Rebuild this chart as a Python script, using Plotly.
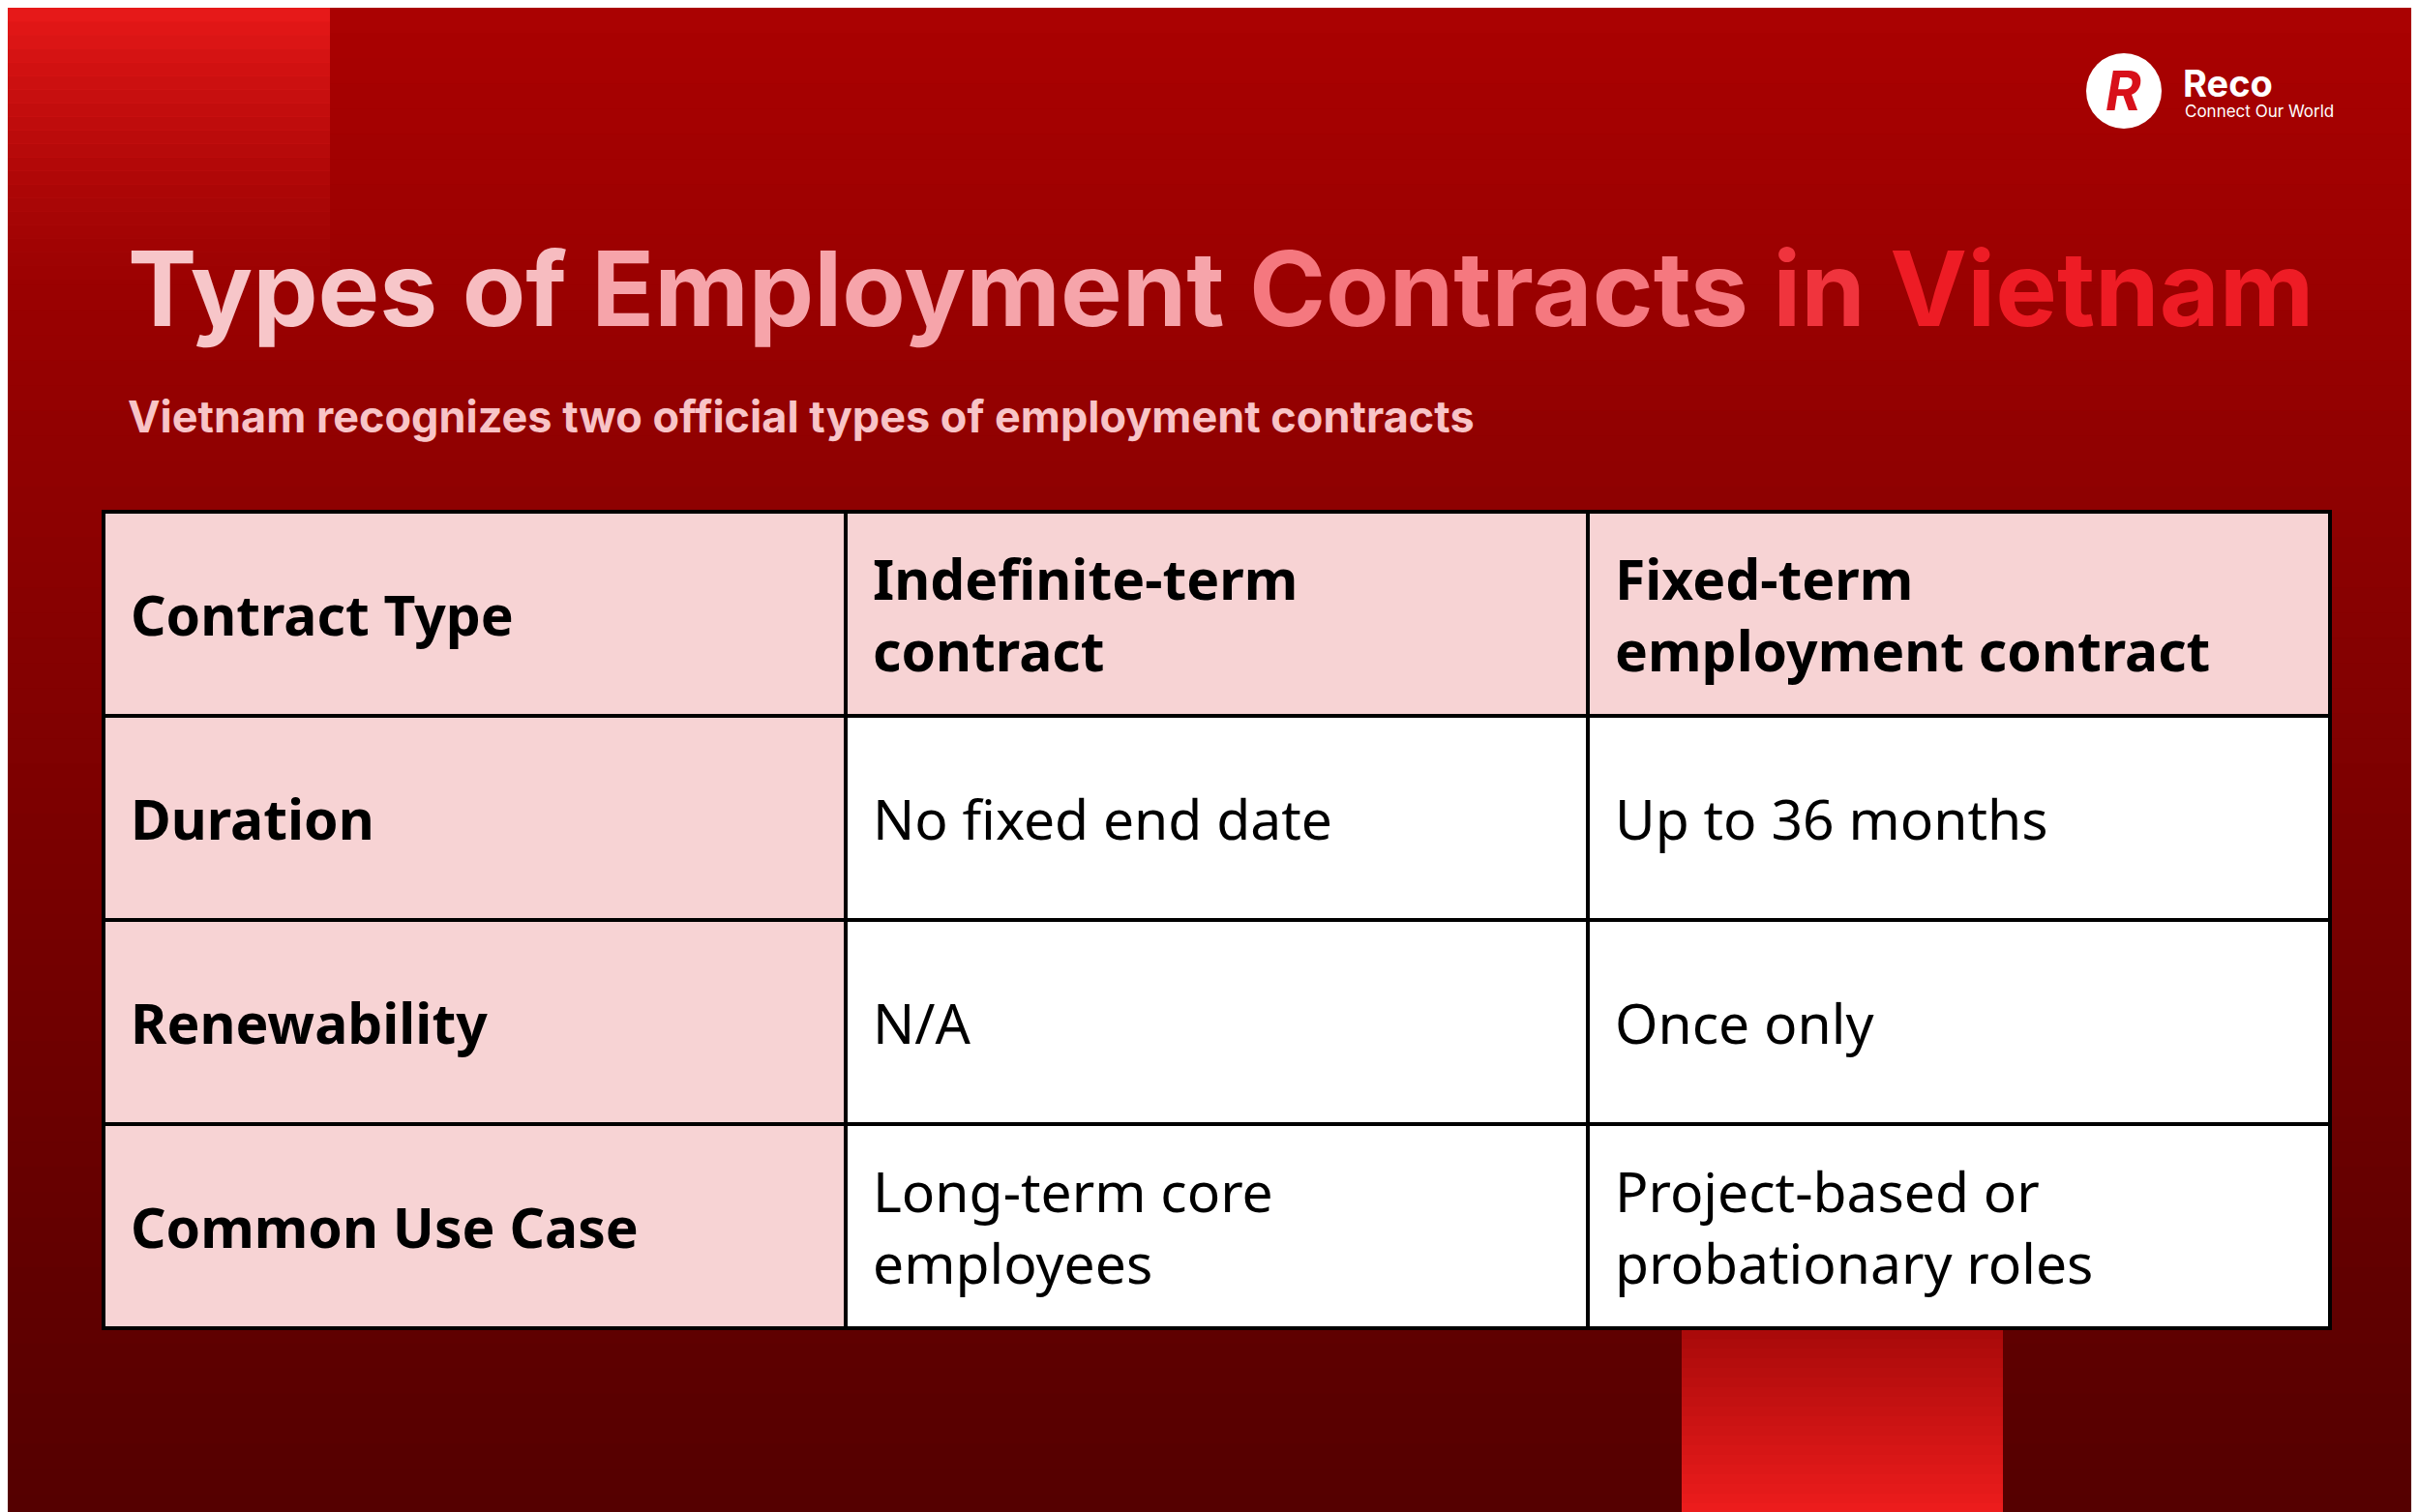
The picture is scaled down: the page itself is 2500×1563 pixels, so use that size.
import plotly.graph_objects as go

# table content
header = ["Contract Type", "Indefinite-term<br>contract", "Fixed-term<br>employment contract"]
row_labels = ["Duration", "Renewability", "Common Use Case"]
indefinite = ["No fixed end date", "N/A", "Long-term core<br>employees"]
fixed = ["Up to 36 months", "Once only", "Project-based or<br>probationary roles"]

title_words = ["Types", "of", "Employment", "Contracts", "in", "Vietnam"]
title_colors = ["#f7c6c9", "#f7bcc0", "#f6a4aa", "#f5787f", "#f0343d", "#ee1c25"]
subtitle = "Vietnam recognizes two official types of employment contracts"

W, H = 2500, 1563
col_edges = [99, 866, 1633, 2400]
row_edges = [521, 732, 943, 1154, 1365]

fig = go.Figure()
shapes = []

# background gradient
n = 60
top, bot = (170, 2, 2), (85, 0, 0)
for i in range(n):
    t = i / (n - 1)
    c = tuple(int(top[k] + (bot[k] - top[k]) * t) for k in range(3))
    shapes.append(dict(type="rect", xref="x", yref="y", x0=0, x1=W,
                       y0=H * i / n, y1=H * (i + 1) / n + 1,
                       fillcolor="rgb(%d,%d,%d)" % c, line_width=0, layer="below"))
# accent blocks
for i in range(20):
    t = i / 19
    c = (int(230 - 70 * t), int(25 - 20 * t), int(25 - 20 * t))
    shapes.append(dict(type="rect", xref="x", yref="y", x0=0, x1=333,
                       y0=i * 14, y1=i * 14 + 15, fillcolor="rgb(%d,%d,%d)" % c,
                       line_width=0, layer="below", opacity=1 - 0.6 * t))
    c2 = (int(170 + 70 * t), int(10 + 20 * t), int(10 + 20 * t))
    shapes.append(dict(type="rect", xref="x", yref="y", x0=1730, x1=2062,
                       y0=1366 + i * 10, y1=1366 + i * 10 + 11, fillcolor="rgb(%d,%d,%d)" % c2,
                       line_width=0, layer="below"))

# table cells
grid = [header] + [[row_labels[i], indefinite[i], fixed[i]] for i in range(3)]
annotations = []
for r in range(4):
    for c in range(3):
        fill = "#f7d3d4" if (r == 0 or c == 0) else "#ffffff"
        shapes.append(dict(type="rect", xref="x", yref="y",
                           x0=col_edges[c], x1=col_edges[c + 1],
                           y0=row_edges[r], y1=row_edges[r + 1],
                           fillcolor=fill, line=dict(color="#000000", width=4)))
        bold = r == 0 or c == 0
        txt = grid[r][c]
        annotations.append(dict(x=col_edges[c] + 26, y=(row_edges[r] + row_edges[r + 1]) / 2,
                                xref="x", yref="y", xanchor="left", yanchor="middle",
                                text="<b>%s</b>" % txt if bold else txt, showarrow=False,
                                align="left",
                                font=dict(family="Noto Sans", size=57, color="#000000")))

# title and subtitle
title = " ".join('<span style="color:%s">%s</span>' % (col, w) for w, col in zip(title_words, title_colors))
annotations.append(dict(x=122, y=290, xref="x", yref="y", xanchor="left", yanchor="middle",
                        text="<b>%s</b>" % title, showarrow=False,
                        font=dict(family="Inter", size=107)))
annotations.append(dict(x=122, y=422, xref="x", yref="y", xanchor="left", yanchor="middle",
                        text="<b>%s</b>" % subtitle, showarrow=False,
                        font=dict(family="Inter", size=45, color="#f8c4c7")))

# logo
shapes.append(dict(type="circle", xref="x", yref="y", x0=2148, x1=2226, y0=47, y1=125,
                   fillcolor="#ffffff", line_width=0))
annotations.append(dict(x=2187, y=86, xref="x", yref="y", text="<b><i>R</i></b>", showarrow=False,
                        font=dict(family="Inter", size=56, color="#d8101a")))
annotations.append(dict(x=2246, y=78, xref="x", yref="y", xanchor="left", text="<b>Reco</b>",
                        showarrow=False, font=dict(family="Inter", size=38, color="#ffffff")))
annotations.append(dict(x=2248, y=107, xref="x", yref="y", xanchor="left", text="Connect Our World",
                        showarrow=False, font=dict(family="Inter", size=17, color="#ffffff")))

fig.update_layout(width=W, height=H, margin=dict(l=0, r=0, t=0, b=0),
                  paper_bgcolor="#7a0000", plot_bgcolor="#7a0000",
                  xaxis=dict(range=[0, W], visible=False),
                  yaxis=dict(range=[H, 0], visible=False),
                  shapes=shapes, annotations=annotations, showlegend=False)
fig.write_html("out.html")
